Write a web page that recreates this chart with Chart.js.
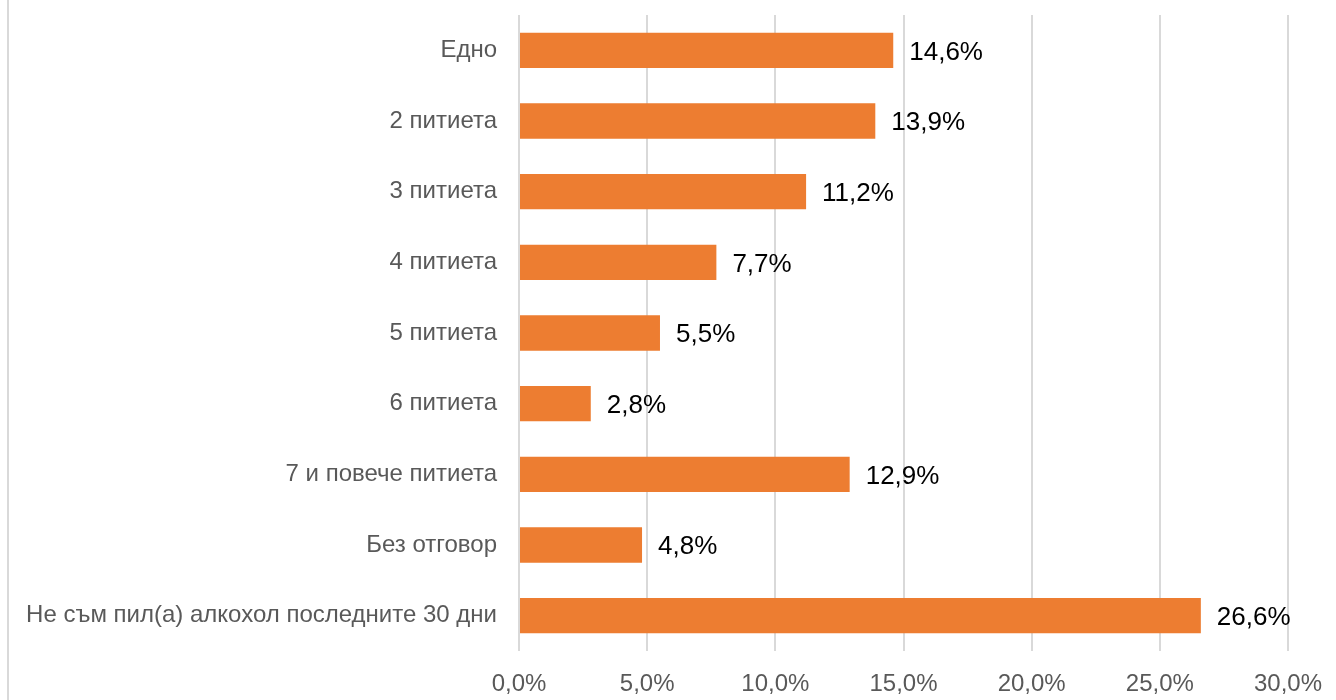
<!DOCTYPE html>
<html>
<head>
<meta charset="utf-8">
<script src="https://cdn.jsdelivr.net/npm/chart.js@4/dist/chart.umd.min.js"></script>
<style>
  html, body { margin: 0; padding: 0; background: #fff; }
  #wrap { position: relative; width: 1336px; height: 700px; }
  #frame { position: absolute; left: 7px; top: 0; width: 0; height: 700px; border-left: 2px solid #d9d9d9; }
  canvas { display: block; }
</style>
</head>
<body>
<div id="wrap">
  <div id="frame"></div>
  <canvas id="myChart" width="1336" height="700"></canvas>
</div>
<script>
const categories = [
  'Едно',
  '2 питиета',
  '3 питиета',
  '4 питиета',
  '5 питиета',
  '6 питиета',
  '7 и повече питиета',
  'Без отговор',
  'Не съм пил(а) алкохол последните 30 дни'
]
const shares = [14.6, 13.9, 11.2, 7.7, 5.5, 2.8, 12.9, 4.8, 26.6]
const xTicks = [0, 5, 10, 15, 20, 25, 30]

const fmt = v => v.toFixed(1).replace('.', ',') + '%'

// value labels to the right of each bar
const barLabels = {
  id: 'barLabels',
  afterDatasetsDraw(chart) {
    const c = chart.ctx
    const meta = chart.getDatasetMeta(0)
    c.save()
    c.font = '26px "Liberation Sans", Arial, sans-serif'
    c.fillStyle = '#000'
    c.textAlign = 'left'
    c.textBaseline = 'middle'
    meta.data.forEach((bar, i) => {
      c.fillText(fmt(shares[i]), bar.x + 16, bar.y + 2)
    })
    c.restore()
  }
}

const ctx = document.getElementById('myChart').getContext('2d')
const chart = new Chart(ctx, {
  type: 'bar',
  data: {
    labels: categories,
    datasets: [{
      data: shares,
      backgroundColor: '#ED7D31',
      barPercentage: 0.5,
      categoryPercentage: 1
    }]
  },
  options: {
    indexAxis: 'y',
    responsive: false,
    animation: false,
    layout: { padding: { top: 15, right: 48, bottom: 0, left: 0 } },
    plugins: { legend: { display: false }, tooltip: { enabled: false } },
    scales: {
      x: {
        min: 0,
        max: 30,
        afterBuildTicks: axis => { axis.ticks = xTicks.map(v => ({ value: v })) },
        afterFit: axis => { axis.height = 49; axis.paddingLeft = 0; axis.paddingRight = 0 },
        grid: { color: '#d9d9d9', lineWidth: 2, drawTicks: false },
        border: { display: false },
        ticks: {
          padding: 19,
          color: '#595959',
          font: { family: '"Liberation Sans", Arial, sans-serif', size: 24 },
          callback: v => fmt(v),
          maxRotation: 0
        }
      },
      y: {
        afterFit: axis => { axis.width = 519; axis.paddingTop = 0; axis.paddingBottom = 0 },
        grid: { display: false, drawTicks: false },
        border: { display: false },
        ticks: {
          padding: 22,
          color: '#595959',
          font: { family: '"Liberation Sans", Arial, sans-serif', size: 24 }
        }
      }
    }
  },
  plugins: [barLabels]
})
</script>
</body>
</html>
